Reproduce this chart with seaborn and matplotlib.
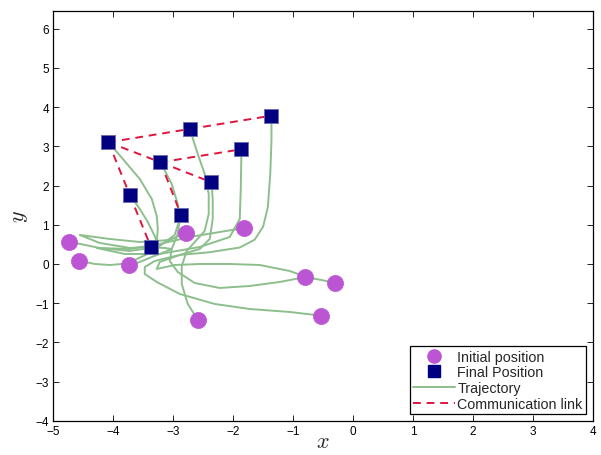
import numpy as np
import pandas as pd
import matplotlib
matplotlib.use("Agg")
import matplotlib.pyplot as plt
from matplotlib.lines import Line2D
import seaborn as sns

# Initial agent positions
init_x = [-4.737, -4.570, -3.736, -2.778, -1.810, -2.585, -0.793, -0.299, -0.526]
init_y = [0.569, 0.084, -0.026, 0.798, 0.918, -1.429, -0.324, -0.477, -1.319]

# Final agent positions (A..I)
final_x = [-4.080, -2.723, -1.360, -3.212, -1.861, -2.361, -2.868, -3.724, -3.369]
final_y = [3.105, 3.444, 3.783, 2.594, 2.926, 2.084, 1.250, 1.760, 0.426]

# Communication graph between final positions (indices into final_*)
links = [(0, 1), (1, 2), (0, 3), (3, 4), (3, 5), (3, 6), (0, 7), (7, 8)]

# Trajectory waypoints for each agent
traj_x = [
    [-4.737, -4.225, -3.724, -3.391, -3.274, -3.257, -3.274, -3.357, -3.557, -3.840, -4.080],
    [-4.570, -4.308, -4.058, -3.858, -3.641, -3.391, -3.257, -3.307, -3.424, -3.557, -3.724],
    [-3.736, -3.557, -3.357, -3.140, -3.024, -3.140, -3.369],
    [-2.778, -3.057, -3.557, -4.058, -4.558, -4.225, -3.724, -3.224, -2.974, -2.868],
    [-1.810, -2.223, -2.723, -3.224, -3.724, -4.275, -3.808, -3.224, -2.556, -2.056, -1.889, -1.872, -1.861],
    [-2.585, -2.757, -2.857, -2.857, -2.774, -2.624, -2.474, -2.407, -2.407, -2.474, -2.590, -2.723],
    [-0.793, -1.055, -1.556, -2.056, -2.556, -2.974, -3.274, -3.224, -2.890, -2.556, -2.390, -2.340, -2.340, -2.361],
    [-0.299, -0.788, -1.222, -1.722, -2.223, -2.640, -2.924, -3.057, -3.024, -2.924, -2.890, -2.924, -3.024, -3.212],
    [-0.526, -1.055, -1.722, -2.307, -2.890, -3.274, -3.474, -3.474, -3.307, -2.890, -2.390, -1.889, -1.640,
     -1.500, -1.420, -1.380, -1.360, -1.360],
]
traj_y = [
    [0.569, 0.408, 0.332, 0.408, 0.561, 0.893, 1.224, 1.658, 2.168, 2.679, 3.105],
    [0.084, 0.000, -0.026, 0.000, 0.102, 0.281, 0.459, 0.714, 1.071, 1.403, 1.760],
    [-0.026, 0.051, 0.179, 0.306, 0.383, 0.408, 0.426],
    [0.798, 0.612, 0.561, 0.638, 0.740, 0.536, 0.408, 0.459, 0.740, 1.250],
    [0.918, 0.816, 0.689, 0.510, 0.383, 0.408, 0.255, 0.255, 0.434, 0.689, 1.148, 1.913, 2.926],
    [-1.429, -1.020, -0.510, -0.051, 0.332, 0.587, 0.842, 1.276, 1.786, 2.296, 2.806, 3.444],
    [-0.324, -0.179, -0.026, 0.000, 0.000, -0.026, -0.128, 0.051, 0.230, 0.383, 0.638, 1.148, 1.658, 2.084],
    [-0.477, -0.332, -0.459, -0.561, -0.612, -0.485, -0.204, 0.077, 0.383, 0.765, 1.148, 1.531, 2.041, 2.594],
    [-1.319, -1.224, -1.148, -1.020, -0.765, -0.459, -0.255, -0.077, 0.077, 0.230, 0.300, 0.420, 0.620,
     0.950, 1.450, 2.300, 3.150, 3.783],
]

x_ticks = [-5, -4, -3, -2, -1, 0, 1, 2, 3, 4]
y_ticks = [-4, -3, -2, -1, 0, 1, 2, 3, 4, 5, 6]

GREEN = "#8dbf8d"
PURPLE = "#bb55d3"
NAVY = "#000080"
RED = "#e0143c"

sns.set_style("ticks")
plt.rcParams["font.family"] = ["Liberation Sans", "DejaVu Sans"]
plt.rcParams["mathtext.fontset"] = "cm"

fig = plt.figure(figsize=(6.01, 4.56), dpi=100)
ax = fig.add_axes([0.0887, 0.075, 0.8975, 0.8993])

rows = []
for i, (tx, ty) in enumerate(zip(traj_x, traj_y)):
    for k, (xv, yv) in enumerate(zip(tx, ty)):
        rows.append({"agent": i, "step": k, "x": xv, "y": yv})
traj = pd.DataFrame(rows)

sns.lineplot(data=traj, x="x", y="y", units="agent", estimator=None, sort=False,
             color=GREEN, lw=1.4, ax=ax, legend=False, zorder=2)

# Communication links
link_rows = []
for j, (a, b) in enumerate(links):
    link_rows.append({"link": j, "x": final_x[a], "y": final_y[a]})
    link_rows.append({"link": j, "x": final_x[b], "y": final_y[b]})
link_df = pd.DataFrame(link_rows)
sns.lineplot(data=link_df, x="x", y="y", units="link", estimator=None, sort=False,
             color=RED, lw=1.4, dashes=False, ax=ax, legend=False, zorder=3)
for line in ax.lines[-len(links):]:
    line.set_linestyle((0, (4, 3)))

init_df = pd.DataFrame({"x": init_x, "y": init_y})
final_df = pd.DataFrame({"x": final_x, "y": final_y})
sns.scatterplot(data=init_df, x="x", y="y", marker="o", s=135, color=PURPLE,
                edgecolor=PURPLE, linewidth=0.5, ax=ax, zorder=4, legend=False)
sns.scatterplot(data=final_df, x="x", y="y", marker="s", s=115, color=NAVY,
                edgecolor="#6a6ab0", linewidth=0.6, ax=ax, zorder=5, legend=False)

ax.set_xlim(-5, 4)
ax.set_ylim(-4, 6.46)
ax.set_xticks(x_ticks)
ax.set_yticks(y_ticks)
ax.set_xticklabels([str(t).replace("-", "\u2212") for t in x_ticks])
ax.set_yticklabels([str(t).replace("-", "\u2212") for t in y_ticks])
ax.tick_params(direction="in", length=4, width=0.6, labelsize=8.5, top=True, right=True,
               colors="black", pad=3)
for sp in ax.spines.values():
    sp.set_visible(True)
    sp.set_linewidth(0.9)
    sp.set_color("black")
ax.set_xlabel("$x$", fontsize=16, labelpad=-4)
ax.set_ylabel("$y$", fontsize=16, labelpad=4)

handles = [
    Line2D([], [], marker="o", ls="none", color=PURPLE, markersize=9.5),
    Line2D([], [], marker="s", ls="none", color=NAVY, markersize=8),
    Line2D([], [], color=GREEN, lw=1.4),
    Line2D([], [], color=RED, lw=1.4, ls=(0, (4, 3))),
]
labels = ["Initial position", "Final Position", "Trajectory", "Communication link"]
leg = ax.legend(handles, labels, loc="lower right", fontsize=10.3, frameon=True, fancybox=False,
                edgecolor="black", framealpha=1, borderpad=0.25, labelspacing=0.12,
                handlelength=2.9, handletextpad=0.2, borderaxespad=0.45)
leg.get_frame().set_linewidth(0.9)

fig.savefig("out.png", dpi=100)
